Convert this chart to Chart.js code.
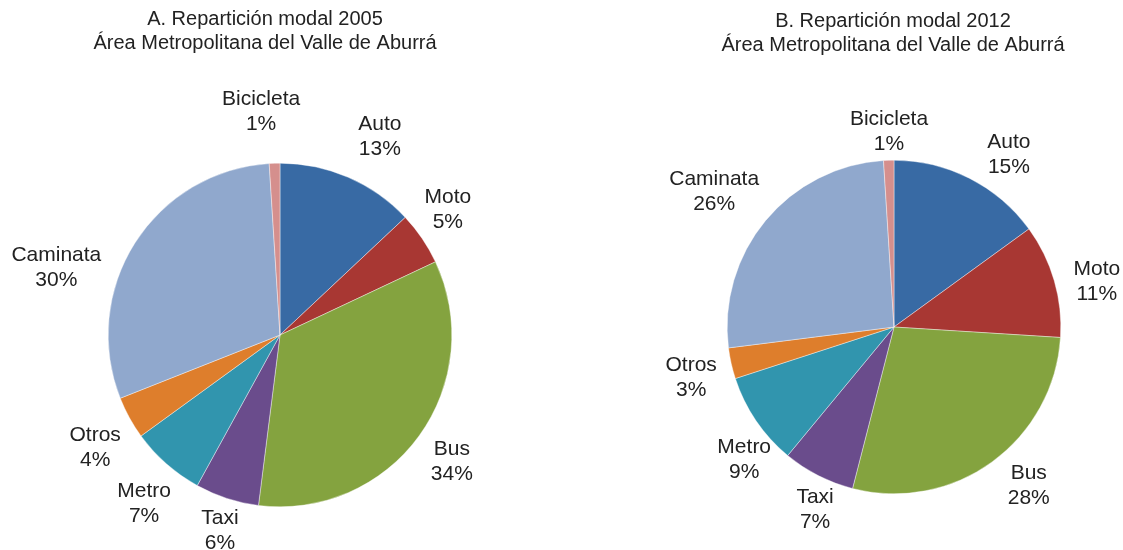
<!DOCTYPE html>
<html lang="es">
<head>
<meta charset="utf-8">
<title>Repartición modal</title>
<script src="https://cdn.jsdelivr.net/npm/chart.js@4.4.1/dist/chart.umd.min.js"></script>
<style>
  html, body { margin: 0; padding: 0; background: #fff; }
  #contenedor { position: relative; width: 1123px; height: 550px; }
  canvas { position: absolute; top: 0; }
  #graficaA { left: 0; }
  #graficaB { left: 560px; }
</style>
</head>
<body>
<div id="contenedor">
  <canvas id="graficaA" width="560" height="550"></canvas>
  <canvas id="graficaB" width="563" height="550"></canvas>
</div>
<script>
const modos = ['Auto', 'Moto', 'Bus', 'Taxi', 'Metro', 'Otros', 'Caminata', 'Bicicleta'];
const valores2005 = [13, 5, 34, 6, 7, 4, 30, 1];
const valores2012 = [15, 11, 28, 7, 9, 3, 26, 1];
const titulo2005 = ['A. Repartición modal 2005', 'Área Metropolitana del Valle de Aburrá'];
const titulo2012 = ['B. Repartición modal 2012', 'Área Metropolitana del Valle de Aburrá'];

const colores = ['#386aa4', '#a83733', '#84a33f', '#6a4c8c', '#3195ae', '#de7e2c', '#90a8cd', '#d58f8d'];

// posición de cada etiqueta respecto al centro, en radios
const etiquetasA = [[0.581, -1.157], [0.977, -0.727], [1.0, 0.738], [-0.349, 1.14],
  [-0.791, 0.983], [-1.076, 0.657], [-1.302, -0.39], [-0.11, -1.297]];
const etiquetasB = [[0.689, -1.03], [1.216, -0.269], [0.808, 0.952], [-0.473, 1.096],
  [-0.898, 0.796], [-1.216, 0.305], [-1.078, -0.814], [-0.03, -1.168]];

const fuente = '"Liberation Sans", Arial, sans-serif';

const textosPlugin = {
  id: 'textos',
  afterDatasetsDraw(chart, args, opts) {
    const ctx = chart.ctx;
    ctx.save();
    ctx.fillStyle = '#222';
    ctx.textAlign = 'center';
    ctx.textBaseline = 'middle';

    // título en dos líneas
    ctx.font = '20px ' + fuente;
    opts.titulo.forEach((linea, i) => ctx.fillText(linea, opts.tituloX, opts.tituloY + i * 24));

    // nombre y porcentaje de cada sector
    ctx.font = '21px ' + fuente;
    const datos = chart.data.datasets[0].data;
    chart.getDatasetMeta(0).data.forEach((arc, i) => {
      const r = arc.outerRadius;
      const x = arc.x + opts.posiciones[i][0] * r;
      const y = arc.y + opts.posiciones[i][1] * r;
      ctx.fillText(chart.data.labels[i], x, y - 12.5);
      ctx.fillText(datos[i] + '%', x, y + 12.5);
    });
    ctx.restore();
  }
};

function crearTorta(id, valores, titulo, posiciones, padding, tituloX, tituloY) {
  return new Chart(document.getElementById(id), {
    type: 'pie',
    data: {
      labels: modos,
      datasets: [{ data: valores, backgroundColor: colores, borderColor: '#ffffff', borderWidth: 0.4 }]
    },
    options: {
      responsive: false,
      animation: false,
      layout: { padding: padding },
      plugins: {
        legend: { display: false },
        tooltip: { enabled: false },
        title: { display: false },
        textos: { titulo: titulo, tituloX: tituloX, tituloY: tituloY, posiciones: posiciones }
      }
    },
    plugins: [textosPlugin]
  });
}

crearTorta('graficaA', valores2005, titulo2005, etiquetasA,
  { left: 108, right: 108, top: 163, bottom: 43 }, 265, 19);
crearTorta('graficaB', valores2012, titulo2012, etiquetasB,
  { left: 167, right: 62, top: 160, bottom: 56 }, 333, 21);
</script>
</body>
</html>
